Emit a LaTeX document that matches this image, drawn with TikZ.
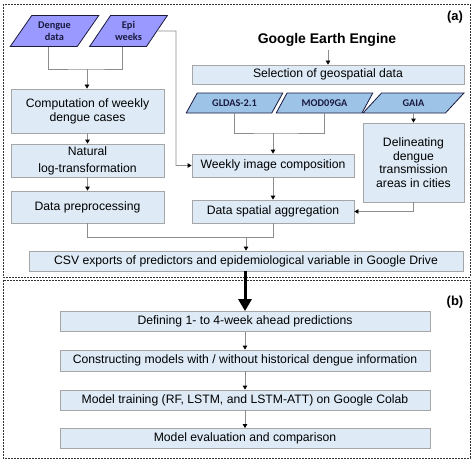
\documentclass[tikz,border=0pt]{standalone}
\usepackage{fontspec}
\setmainfont{Liberation Sans}
\newfontfamily\calibrifont{Carlito}
\usepackage{tikz}
\usetikzlibrary{calc,positioning,arrows.meta,shapes.geometric}
\definecolor{boxfill}{HTML}{DEEBF7}
\definecolor{boxedge}{HTML}{A6A6A6}
\definecolor{linegray}{HTML}{8C8C8C}
\definecolor{purplefill}{HTML}{9999FF}
\definecolor{bluefill}{HTML}{9DC3E6}
\definecolor{navy}{HTML}{1A1A40}
\newcommand{\boxfont}{\fontsize{12.2}{14.2}\selectfont}
\tikzset{
  conn/.style={draw=linegray, line width=0.8pt},
  arr/.style={conn, -{Triangle[width=4.5pt,length=4pt,color=black]}},
  bigarr/.style={line width=3pt, -{Triangle[width=13pt,length=12pt]}},
  box/.style={draw=boxedge, fill=boxfill, align=center, inner sep=1pt, font=\boxfont, line width=0.8pt},
  databox/.style={trapezium, trapezium left angle=52, trapezium right angle=128,
    trapezium stretches=true, draw=navy, line width=0.8pt, text=navy, align=center,
    inner sep=1pt, font=\calibrifont\bfseries\fontsize{10.3}{12.3}\selectfont},
  frame/.style={draw=black!80, line width=0.8pt, dash pattern=on 2pt off 1pt},
  tag/.style={font=\bfseries\fontsize{13}{15}\selectfont}
}

\begin{document}
\begin{tikzpicture}[x=1pt, y=-1pt]
  \useasboundingbox (0,0) rectangle (474,460);
  % frames
  \draw[frame] (3,4) rectangle (470,277);
  \draw[frame] (3,280) rectangle (470,458);
  \node[tag] (taga) at (455,17) {(a)};
  \node[tag] (tagb) at (455,302) {(b)};

  % (a) left column
  \node[databox, fill=purplefill, minimum width=89pt, minimum height=31pt] (dengue) at (54.5,31) {Dengue\\data};
  \node[databox, fill=purplefill, minimum width=78pt, minimum height=31pt] (epi) at (128.5,31) {Epi\\weeks};
  \node[box, minimum width=153pt, minimum height=44pt] (comp) at (87.5,111) {Computation of weekly\\dengue cases};
  \node[box, minimum width=153pt, minimum height=33pt] (natlog) at (87.5,160.5) {Natural\\[2.5pt]log-transformation};
  \node[box, minimum width=153pt, minimum height=32pt] (prep) at (87.5,207) {Data preprocessing};

  % (a) right column
  \node[font=\bfseries\fontsize{14}{16}\selectfont] (gee) at (327,40) {Google Earth Engine};
  \node[box, minimum width=272pt, minimum height=19pt] (sel) at (328,74.5) {Selection of geospatial data};
  \node[databox, fill=bluefill, minimum width=97pt, minimum height=20pt] (gldas) at (234.5,103) {GLDAS-2.1};
  \node[databox, fill=bluefill, minimum width=97pt, minimum height=20pt] (mod) at (324.5,103) {MOD09GA};
  \node[databox, fill=bluefill, minimum width=101pt, minimum height=20pt] (gaia) at (413.5,103) {GAIA};
  \node[box, minimum width=101pt, minimum height=79pt, font=\fontsize{12.2}{13.7}\selectfont] (delin) at (413.5,162.5) {Delineating\\dengue\\transmission\\areas in cities};
  \node[box, minimum width=162pt, minimum height=23pt] (weekly) at (273,165.5) {Weekly image composition};
  \node[box, minimum width=162pt, minimum height=23pt] (agg) at (273,211.5) {Data spatial aggregation};
  \node[box, minimum width=434pt, minimum height=20pt] (csv) at (246,261) {CSV exports of predictors and epidemiological variable in Google Drive};

  % (b)
  \node[box, minimum width=370pt, minimum height=20pt] (define) at (245,321.5) {Defining 1- to 4-week ahead predictions};
  \node[box, minimum width=370pt, minimum height=21pt] (build) at (245,360.5) {Constructing models with / without historical dengue information};
  \node[box, minimum width=370pt, minimum height=20pt] (train) at (245,400) {Model training (RF, LSTM, and LSTM-ATT) on Google Colab};
  \node[box, minimum width=370pt, minimum height=20pt] (evalb) at (245,438.5) {Model evaluation and comparison};

  % junctions
  \coordinate (jin) at (87,69);
  \coordinate (bend) at (176,31);
  \coordinate (jsat) at (273,133);
  \coordinate (jcsv) at (246,237);

  % connectors
  \draw[conn] ([xshift=-6pt]dengue.south) |- (jin) -| ([xshift=-6pt]epi.south);
  \draw[arr] (jin) -- (comp.north -| jin);
  \draw[arr] (comp) -- (natlog);
  \draw[arr] (natlog) -- (prep);
  \draw[arr] (epi.east) -- (bend) |- (weekly.west);
  \draw[arr] (gee.south -| sel.north) -- (sel.north);
  \draw[conn] (gldas.south) |- (jsat) -| (mod.south);
  \draw[arr] (jsat) -- (weekly.north);
  \draw[arr] (gaia.south) -- (delin.north);
  \draw[arr] (weekly) -- (agg);
  \draw[arr] (delin.south) |- (agg.east);
  \draw[conn] (prep.south) |- (jcsv);
  \draw[conn] (agg.south) |- (jcsv);
  \draw[arr] (jcsv) -- (csv.north -| jcsv);
  \draw[bigarr] (csv.south -| define.north) -- (define.north);
  \draw[arr] (define) -- (build);
  \draw[arr] (build) -- (train);
  \draw[arr] (train) -- (evalb);
\end{tikzpicture}
\end{document}
